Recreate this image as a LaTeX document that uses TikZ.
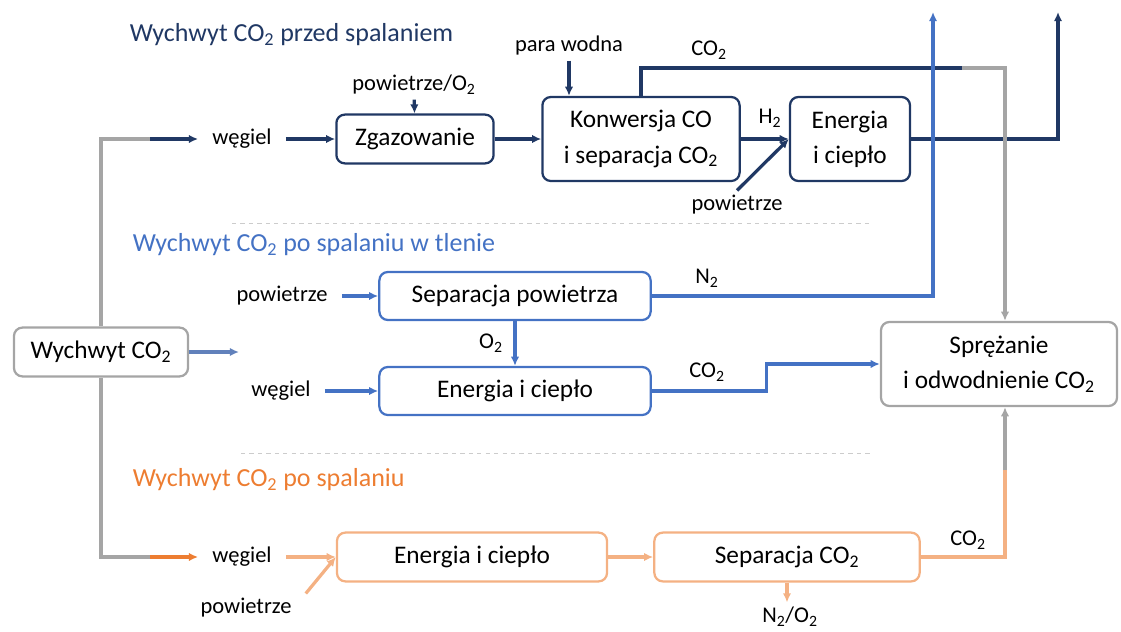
\documentclass[tikz,border=0pt]{standalone}
\usepackage{fontspec}
\setmainfont{Carlito}
\usepackage{tikz}
\usetikzlibrary{arrows.meta,positioning}
\definecolor{dkblue}{RGB}{32,56,100}
\definecolor{ltblue}{RGB}{68,114,196}
\definecolor{orng}{RGB}{237,125,49}
\definecolor{lorng}{RGB}{244,177,131}
\definecolor{gry}{RGB}{165,165,165}
\newcommand{\cotwo}{CO\textsubscript{2}}

\begin{document}
\begin{tikzpicture}[x=0.025cm,y=-0.025cm,>={Latex[length=6.5pt,width=6pt]},
    box/.style={draw,rounded corners=6pt,line width=1.6pt,align=center,text=black,
      font=\fontsize{18}{25}\selectfont,minimum height=1.22cm},
    lbl/.style={font=\fontsize{16}{19}\selectfont,inner xsep=10pt},
    ttl/.style={anchor=west,font=\fontsize{18.5}{22}\selectfont},
    nline/.style={dkblue,line width=2.3pt},
    bline/.style={ltblue,line width=2.3pt},
    oline/.style={lorng,line width=2.3pt},
    gline/.style={gry,line width=2.3pt},
    sepline/.style={gray!40,dashed,line width=0.6pt}]
    \useasboundingbox (0,0) rectangle (1121,632);

    % przed spalaniem
    \node [ttl,dkblue] (t1) at (125,35) {Wychwyt \cotwo{} przed spalaniem};
    \node [box,draw=dkblue,minimum width=3.93cm] (zgaz) at (415,139) {Zgazowanie};
    \node [box,draw=dkblue,minimum width=4.93cm,minimum height=2.1cm] (konw) at (641,139) {Konwersja CO\\i separacja \cotwo};
    \node [box,draw=dkblue,minimum width=3cm,minimum height=2.1cm] (en1) at (850,139) {Energia\\i ciepło};
    \node [lbl] (wg1) at (242,139) {węgiel};
    \node [lbl] (pow1) at (414,85) {powietrze/O\textsubscript{2}};
    \node [lbl] (para) at (569,46) {para wodna};
    \node [lbl] (co2a) at (709,50) {\cotwo};
    \node [lbl] (h2) at (770,118) {H\textsubscript{2}};
    \node [lbl] (pow2) at (737,205) {powietrze};
    \coordinate (out1) at (1058,12);
    \coordinate (c1) at (962,68);
    \coordinate (c2) at (1005,68);

    % wychwyt
    \node [box,draw=gry,minimum width=4.35cm] (wych) at (101,352) {Wychwyt \cotwo};
    \coordinate (c3) at (150,139);
    \coordinate (c4) at (239,352);
    \coordinate (c5) at (150,557);

    % po spalaniu w tlenie
    \node [ttl,ltblue] (t2) at (128,245) {Wychwyt \cotwo{} po spalaniu w tlenie};
    \node [box,draw=ltblue,minimum width=6.78cm,minimum height=1.2cm] (seppow) at (515,296) {Separacja powietrza};
    \node [box,draw=ltblue,minimum width=6.78cm,minimum height=1.2cm] (en2) at (515,391) {Energia i ciepło};
    \node [lbl] (pow3) at (282,296) {powietrze};
    \node [lbl] (wg2) at (281,391) {węgiel};
    \node [lbl] (n2) at (707,278) {N\textsubscript{2}};
    \node [lbl] (o2) at (491,343) {O\textsubscript{2}};
    \node [lbl] (co2b) at (707,372) {\cotwo};
    \node [box,draw=gry,minimum width=5.9cm,minimum height=2.1cm] (spr) at (999,364) {Sprężanie\\i odwodnienie \cotwo};
    \coordinate (out2) at (933,12);

    % po spalaniu
    \node [ttl,orng] (t3) at (128,480) {Wychwyt \cotwo{} po spalaniu};
    \node [box,draw=lorng,minimum width=6.75cm] (en3) at (472,557) {Energia i ciepło};
    \node [box,draw=lorng,minimum width=6.63cm] (sepco) at (787,557) {Separacja \cotwo};
    \node [lbl] (wg3) at (242,557) {węgiel};
    \node [lbl] (pow4) at (246,608) {powietrze};
    \node [lbl] (co2c) at (968,540) {\cotwo};
    \node [lbl] (n2o2) at (790,617) {N\textsubscript{2}/O\textsubscript{2}};
    \coordinate (c6) at (1005,470);

    \draw [sepline] (232,223) -- (870,223);
    \draw [sepline] (241,453) -- (870,453);

    \draw [gline] (wych) |- (c3);
    \draw [nline,->] (c3) -- (wg1);
    \draw [nline,->] (wg1) -- (zgaz);
    \draw [nline,->] (pow1) -- (zgaz);
    \draw [nline,->] (zgaz) -- (konw);
    \draw [nline,->] (para.south) -- (para.south |- konw.north);
    \draw [nline,->] (konw) -- (en1);
    \draw [nline,->] (pow2.north) -- (en1.west);
    \draw [nline,->] (en1) -| (out1);
    \draw [nline] (konw) |- (c1);
    \draw [gline,->] (c1) -- (c2) -- (c2 |- spr.north);

    \draw [bline,color=ltblue!70!gry,->] (wych) -- (c4);
    \draw [bline,->] (pow3) -- (seppow);
    \draw [bline,->] (wg2) -- (en2);
    \draw [bline,->] (seppow) -- (en2);
    \draw [bline,->] (seppow) -| (out2);
    \draw [bline,->] (en2.east) -- ++(115,0) |- (spr);

    \draw [gline] (wych) |- (c5);
    \draw [oline,color=orng,->] (c5) -- (wg3);
    \draw [oline,->] (wg3) -- (en3);
    \draw [oline,->] (pow4.north east) -- (en3.west);
    \draw [oline,->] (en3) -- (sepco);
    \draw [oline,->] (sepco.south) -- (sepco.south |- n2o2.north);
    \draw [oline] (sepco) -| (c6);
    \draw [gline,->] (c6) -- (c6 |- spr.south);
\end{tikzpicture}
\end{document}
